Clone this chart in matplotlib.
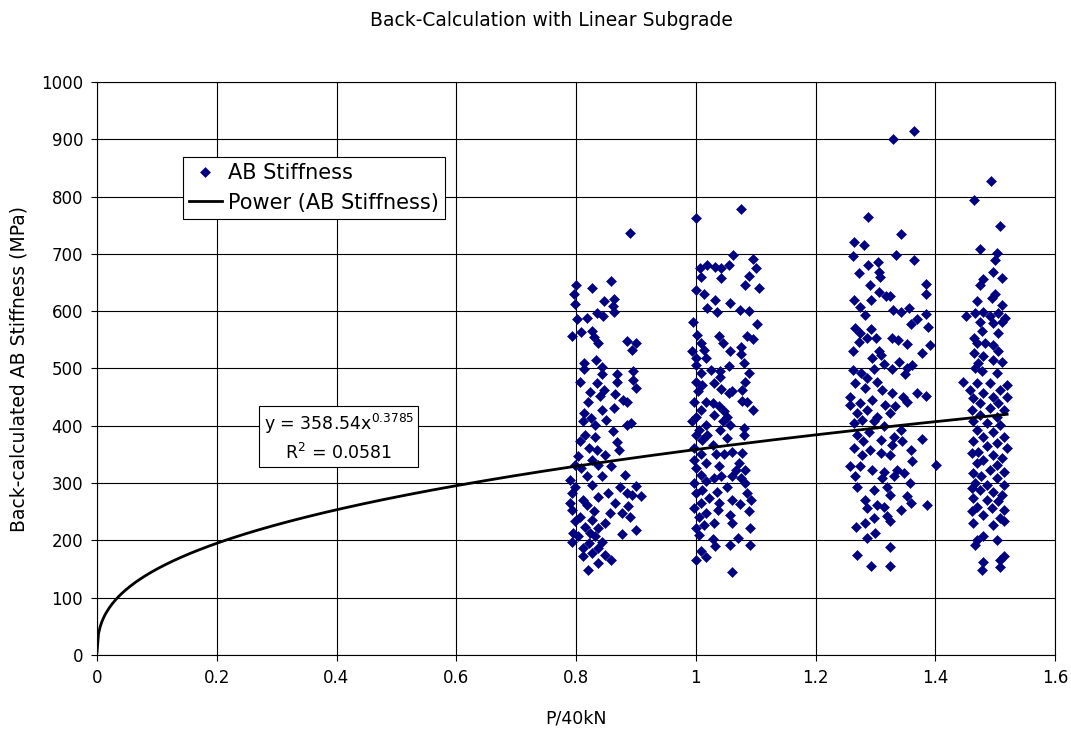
import numpy as np
import matplotlib
matplotlib.use("Agg")
import matplotlib.pyplot as plt

# === Daten ===
c1_x = [0.890, 0.800, 0.858, 0.827, 0.796, 0.864, 0.847, 0.798, 0.861, 0.864,
        0.835, 0.845, 0.819, 0.802, 0.809, 0.827, 0.793, 0.830, 0.837, 0.886,
        0.900, 0.893, 0.813, 0.833, 0.844, 0.813, 0.843, 0.868, 0.896, 0.896,
        0.806, 0.835, 0.868, 0.846, 0.900, 0.824, 0.840, 0.865, 0.820, 0.879,
        0.885, 0.864, 0.814, 0.843, 0.825, 0.850, 0.811, 0.886, 0.892, 0.831,
        0.861, 0.832, 0.815, 0.806, 0.868, 0.871, 0.821, 0.835, 0.804, 0.849,
        0.826, 0.798, 0.858, 0.809, 0.837, 0.790, 0.818, 0.843, 0.882, 0.798,
        0.826, 0.874, 0.900, 0.793, 0.854, 0.886, 0.893, 0.909, 0.812, 0.837,
        0.865, 0.790, 0.818, 0.887, 0.793, 0.830, 0.856, 0.876, 0.890, 0.807,
        0.826, 0.798, 0.849, 0.815, 0.837, 0.795, 0.823, 0.876, 0.900, 0.804,
        0.832, 0.794, 0.843, 0.821, 0.812, 0.837, 0.826, 0.849, 0.812, 0.858,
        0.837, 0.820]
c1_y = [737, 645, 653, 640, 630, 621, 617, 613, 609, 599,
        597, 591, 589, 586, 563, 566, 557, 555, 545, 548,
        545, 533, 509, 515, 503, 499, 491, 491, 495, 480,
        476, 474, 476, 463, 466, 459, 452, 455, 441, 445,
        442, 431, 423, 428, 413, 410, 408, 401, 405, 401,
        391, 381, 384, 373, 371, 358, 361, 358, 347, 349,
        341, 332, 329, 326, 332, 306, 312, 312, 315, 294,
        297, 294, 295, 282, 282, 282, 279, 277, 270, 276,
        265, 265, 262, 260, 253, 252, 247, 248, 241, 241,
        236, 233, 230, 224, 221, 213, 213, 212, 219, 207,
        207, 198, 198, 195, 186, 186, 178, 175, 172, 166,
        160, 148]

c2_x = [1.076, 1.000, 1.063, 1.096, 1.100, 1.007, 1.019, 1.032, 1.043, 1.056,
        1.008, 1.043, 1.089, 1.083, 1.106, 1.000, 1.013, 1.032, 1.058, 1.018,
        1.036, 1.074, 1.089, 0.996, 1.102, 1.002, 1.038, 1.086, 1.096, 1.045,
        1.008, 1.075, 0.994, 1.014, 1.058, 1.000, 1.075, 1.017, 1.081, 1.056,
        1.001, 1.025, 1.041, 1.089, 1.008, 1.041, 1.000, 1.083, 1.031, 1.011,
        1.043, 1.061, 1.078, 1.003, 1.056, 0.997, 1.017, 1.077, 1.086, 1.028,
        1.095, 1.039, 1.008, 1.047, 1.000, 1.031, 1.053, 0.994, 1.045, 1.017,
        1.058, 1.081, 1.006, 1.041, 1.000, 1.019, 1.053, 1.081, 1.011, 1.028,
        0.997, 1.061, 1.033, 1.008, 1.047, 0.997, 1.078, 1.072, 1.017, 1.039,
        1.000, 1.083, 1.067, 1.008, 1.042, 1.061, 1.031, 1.075, 0.997, 1.017,
        1.083, 1.053, 1.011, 1.036, 1.086, 1.000, 1.092, 1.061, 1.022, 1.008,
        1.039, 1.074, 0.997, 1.037, 1.089, 1.017, 1.058, 1.006, 1.031, 1.061,
        1.000, 1.014, 1.091, 1.006, 1.028, 1.070, 1.032, 1.058, 1.091, 1.008,
        1.017, 1.000, 1.060]
c2_y = [778, 762, 698, 691, 675, 675, 680, 678, 675, 680,
        660, 658, 662, 646, 640, 637, 630, 620, 614, 605,
        598, 602, 601, 582, 577, 559, 556, 556, 551, 544,
        544, 538, 530, 533, 530, 518, 526, 518, 509, 505,
        506, 498, 495, 492, 492, 486, 477, 477, 474, 471,
        464, 460, 463, 460, 457, 442, 442, 444, 442, 439,
        428, 434, 428, 425, 416, 419, 416, 408, 408, 402,
        402, 396, 393, 393, 384, 384, 378, 384, 376, 367,
        361, 355, 351, 350, 351, 341, 352, 335, 335, 329,
        326, 323, 323, 315, 312, 312, 309, 309, 300, 303,
        300, 294, 288, 285, 283, 283, 271, 271, 274, 265,
        265, 264, 256, 253, 251, 248, 245, 240, 230, 231,
        222, 227, 222, 210, 202, 204, 190, 192, 192, 181,
        171, 166, 144]

c3_x = [1.365, 1.329, 1.287, 1.342, 1.265, 1.281, 1.263, 1.334, 1.365, 1.287,
        1.305, 1.273, 1.306, 1.308, 1.291, 1.384, 1.384, 1.306, 1.317, 1.324,
        1.265, 1.293, 1.275, 1.329, 1.356, 1.342, 1.283, 1.385, 1.369, 1.359,
        1.388, 1.266, 1.292, 1.275, 1.301, 1.327, 1.338, 1.353, 1.272, 1.286,
        1.392, 1.378, 1.263, 1.306, 1.294, 1.309, 1.340, 1.361, 1.353, 1.314,
        1.263, 1.327, 1.276, 1.297, 1.350, 1.286, 1.266, 1.303, 1.283, 1.311,
        1.328, 1.369, 1.385, 1.346, 1.258, 1.353, 1.294, 1.275, 1.316, 1.333,
        1.258, 1.286, 1.269, 1.303, 1.325, 1.278, 1.297, 1.264, 1.314, 1.342,
        1.290, 1.331, 1.269, 1.280, 1.309, 1.378, 1.359, 1.345, 1.264, 1.291,
        1.327, 1.277, 1.309, 1.324, 1.401, 1.361, 1.258, 1.275, 1.294, 1.314,
        1.336, 1.347, 1.266, 1.311, 1.331, 1.269, 1.297, 1.319, 1.357, 1.283,
        1.325, 1.353, 1.286, 1.303, 1.314, 1.386, 1.342, 1.359, 1.320, 1.297,
        1.325, 1.283, 1.268, 1.300, 1.286, 1.325, 1.269, 1.293, 1.325]
c3_y = [915, 900, 764, 734, 721, 715, 697, 698, 690, 680,
        686, 666, 669, 660, 645, 648, 630, 633, 627, 626,
        620, 619, 608, 602, 605, 598, 594, 595, 586, 578,
        573, 570, 569, 562, 553, 553, 550, 543, 547, 553,
        541, 527, 530, 530, 518, 524, 512, 506, 501, 508,
        498, 499, 492, 499, 491, 483, 474, 477, 466, 463,
        458, 457, 452, 451, 450, 442, 445, 440, 437, 434,
        437, 428, 422, 416, 422, 410, 408, 405, 399, 393,
        390, 381, 384, 373, 376, 377, 358, 373, 361, 358,
        367, 349, 352, 349, 332, 338, 329, 329, 323, 320,
        323, 317, 312, 309, 312, 294, 288, 294, 300, 271,
        280, 277, 256, 262, 259, 262, 253, 265, 242, 239,
        233, 230, 223, 213, 204, 188, 175, 155, 155]

c4_x = [1.493, 1.464, 1.508, 1.475, 1.503, 1.500, 1.497, 1.511, 1.480, 1.474,
        1.499, 1.494, 1.470, 1.511, 1.451, 1.466, 1.480, 1.491, 1.505, 1.516,
        1.475, 1.497, 1.511, 1.478, 1.505, 1.464, 1.469, 1.483, 1.497, 1.505,
        1.464, 1.480, 1.511, 1.472, 1.497, 1.466, 1.478, 1.503, 1.447, 1.519,
        1.469, 1.491, 1.458, 1.508, 1.480, 1.463, 1.497, 1.519, 1.475, 1.505,
        1.461, 1.491, 1.514, 1.475, 1.503, 1.463, 1.486, 1.508, 1.469, 1.497,
        1.480, 1.514, 1.463, 1.503, 1.486, 1.519, 1.472, 1.461, 1.497, 1.511,
        1.480, 1.469, 1.503, 1.491, 1.463, 1.514, 1.477, 1.503, 1.466, 1.486,
        1.514, 1.461, 1.475, 1.497, 1.511, 1.463, 1.486, 1.505, 1.469, 1.494,
        1.514, 1.461, 1.480, 1.508, 1.463, 1.497, 1.514, 1.480, 1.503, 1.469,
        1.466, 1.514, 1.508, 1.480, 1.478, 1.508]
c4_y = [828, 794, 749, 709, 702, 690, 669, 658, 656, 646,
        630, 623, 617, 611, 591, 597, 599, 591, 597, 588,
        582, 579, 582, 565, 562, 553, 544, 544, 541, 530,
        527, 521, 512, 509, 515, 501, 495, 492, 477, 472,
        474, 474, 463, 463, 457, 448, 451, 451, 440, 440,
        428, 431, 428, 419, 416, 408, 405, 402, 393, 390,
        381, 381, 373, 370, 364, 361, 355, 352, 349, 344,
        341, 335, 332, 323, 317, 320, 312, 309, 300, 297,
        297, 291, 288, 285, 280, 274, 271, 268, 259, 256,
        253, 251, 245, 239, 230, 227, 233, 207, 201, 200,
        192, 172, 166, 163, 148, 154]

x_all = np.array(c1_x + c2_x + c3_x + c4_x)
y_all = np.array(c1_y + c2_y + c3_y + c4_y)

# Trendlinie laut Gleichung im Diagramm
fit_a = 358.54
fit_b = 0.3785
fit_xmax = 1.52

x_ticks = [0, 0.2, 0.4, 0.6, 0.8, 1.0, 1.2, 1.4, 1.6]
x_ticklabels = ["0", "0.2", "0.4", "0.6", "0.8", "1", "1.2", "1.4", "1.6"]
y_ticks = list(range(0, 1001, 100))

# === Grafik ===
plt.rcParams["font.family"] = ["DejaVu Sans"]
plt.rcParams["mathtext.default"] = "regular"

fig = plt.figure(figsize=(10.71, 7.31), dpi=100)
ax = fig.add_axes([97 / 1071, 1 - 655 / 731, 958 / 1071, 573 / 731])

ax.plot(x_all, y_all, linestyle="none", marker="D", ms=5.4,
        color="#000080", mec="#000080", mew=0.4, label="AB Stiffness", zorder=3)

xf = np.linspace(1e-5, fit_xmax, 600)
ax.plot(xf, fit_a * xf ** fit_b, color="black", lw=2, label="Power (AB Stiffness)", zorder=4)

ax.set_xlim(0, 1.6)
ax.set_ylim(0, 1000)
ax.set_xticks(x_ticks)
ax.set_xticklabels(x_ticklabels)
ax.set_yticks(y_ticks)
ax.tick_params(labelsize=12, direction="out", length=4, color="black", pad=6)
ax.grid(True, color="black", lw=0.8)
ax.set_axisbelow(True)
for s in ax.spines.values():
    s.set_color("black")
    s.set_linewidth(0.8)

ax.set_xlabel("P/40kN", fontsize=12.5, labelpad=16)
ax.set_ylabel("Back-calculated AB Stiffness (MPa)", fontsize=13.5, labelpad=9)
fig.text(0.515, 1 - 20 / 731, "Back-Calculation with Linear Subgrade",
         ha="center", va="center", fontsize=13.5)

leg = ax.legend(loc="upper left", bbox_to_anchor=(0.0898, 0.869), borderaxespad=0,
                fontsize=15, fancybox=False, edgecolor="black", framealpha=1,
                handlelength=1.55, handletextpad=0.3, borderpad=0.3,
                labelspacing=0.45, markerscale=0.9)
leg.get_frame().set_linewidth(0.8)

ax.text(0.404, 380, "y = 358.54x$^{0.3785}$\nR$^2$ = 0.0581", ha="center", va="center",
        fontsize=12.5, linespacing=1.4, zorder=5,
        bbox=dict(boxstyle="square,pad=0.25", fc="white", ec="black", lw=0.8))

fig.savefig("out.png", dpi=100)
